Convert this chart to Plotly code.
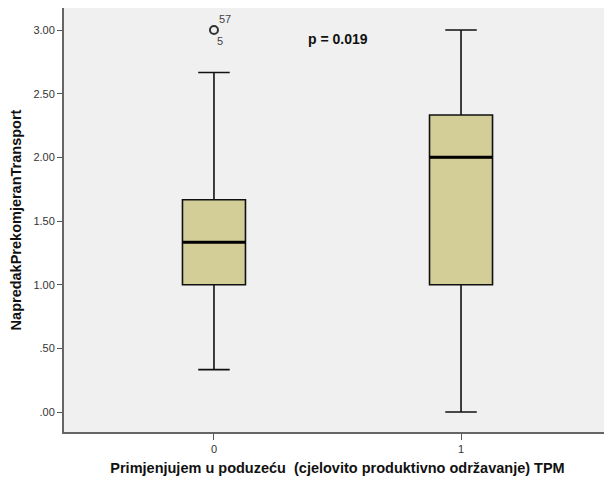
import plotly.graph_objects as go

# Data
groups = [0, 1]
group_labels = ["0", "1"]
lower_whisker = [0.333, 0.0]
q1 = [1.0, 1.0]
median = [1.333, 2.0]
q3 = [1.667, 2.333]
upper_whisker = [2.667, 3.0]
outlier_x = [0]
outlier_y = [3.0]
outlier_ids_above = ["57"]
outlier_ids_below = ["5"]
y_ticks = [0, 0.5, 1.0, 1.5, 2.0, 2.5, 3.0]
y_tick_labels = [".00", ".50", "1.00", "1.50", "2.00", "2.50", "3.00"]

BOX_W = 0.255
FILL = "#d3ce98"

fig = go.Figure()
for g, lo, a, m, b, hi in zip(groups, lower_whisker, q1, median, q3, upper_whisker):
    fig.add_trace(go.Box(
        x=[g], q1=[a], median=[m], q3=[b], lowerfence=[lo], upperfence=[hi],
        width=BOX_W, whiskerwidth=0.5, fillcolor=FILL,
        line=dict(color="#111111", width=1.6), boxpoints=False,
        showlegend=False, hoverinfo="skip"))
    fig.add_shape(type="line", x0=g - BOX_W / 2, x1=g + BOX_W / 2, y0=m, y1=m,
                  line=dict(color="black", width=3), layer="above")

fig.add_trace(go.Scatter(
    x=outlier_x, y=outlier_y, mode="markers",
    marker=dict(symbol="circle-open", size=8, color="#333333", line=dict(width=2)),
    showlegend=False, hoverinfo="skip"))
for ox, oy, t1, t2 in zip(outlier_x, outlier_y, outlier_ids_above, outlier_ids_below):
    fig.add_annotation(x=ox, y=oy, text=t1, showarrow=False, xshift=11, yshift=11,
                       font=dict(size=11, color="#444444", family="Liberation Sans, Arial"))
    fig.add_annotation(x=ox, y=oy, text=t2, showarrow=False, xshift=6, yshift=-11,
                       font=dict(size=11, color="#444444", family="Liberation Sans, Arial"))

fig.add_annotation(x=0.5, y=2.93, xref="x", yref="y", text="<b>p = 0.019</b>", showarrow=False,
                   font=dict(size=14, color="#111111", family="Liberation Sans, Arial"))

# page body has an 8px margin, so the figure is sized to fit the 612x483 window
fig.update_layout(
    width=604, height=475,
    margin=dict(l=56, r=1, t=0, b=51, autoexpand=False),
    paper_bgcolor="white", plot_bgcolor="#f0f0f0",
    font=dict(family="Liberation Sans, Arial", size=11, color="#333333"),
)
fig.update_xaxes(
    range=[-0.607, 1.607], tickvals=groups, ticktext=group_labels, automargin=False,
    showgrid=False, zeroline=False, ticks="outside", ticklen=6, tickcolor="#555555",
    showline=True, linecolor="#666666", linewidth=2, mirror=True,
    tickfont=dict(size=11, color="#333333"),
    title=dict(text="<b>Primjenjujem u poduzeću  (cjelovito produktivno održavanje) TPM</b>",
               font=dict(size=14.5, color="#111111"), standoff=9),
)
fig.update_yaxes(
    range=[-0.157, 3.173], tickvals=y_ticks, ticktext=y_tick_labels, automargin=False,
    showgrid=False, zeroline=False, ticks="outside", ticklen=5, tickcolor="#555555",
    showline=True, linecolor="#666666", linewidth=2, mirror=True,
    tickfont=dict(size=11, color="#333333"),
    title=dict(text="<b>NapredakPrekomjeranTransport</b>",
               font=dict(size=14.5, color="#111111"), standoff=8),
)

fig.write_html("out.html")
